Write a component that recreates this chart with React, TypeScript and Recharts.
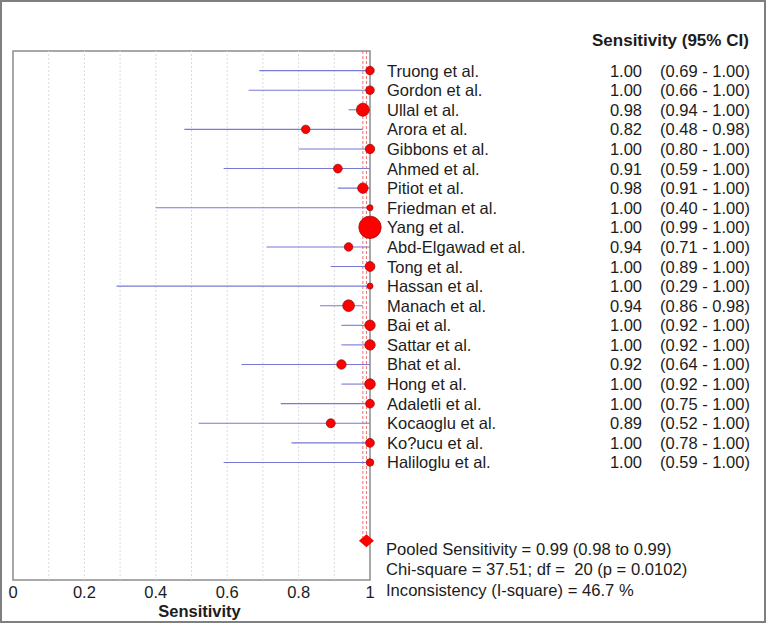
import React from "react";
import {
  ScatterChart,
  Scatter,
  XAxis,
  YAxis,
  ZAxis,
  ErrorBar,
  ReferenceLine,
  ReferenceArea,
} from "recharts";

const studies = [
  "Truong et al.",
  "Gordon et al.",
  "Ullal et al.",
  "Arora et al.",
  "Gibbons et al.",
  "Ahmed et al.",
  "Pitiot et al.",
  "Friedman et al.",
  "Yang et al.",
  "Abd-Elgawad et al.",
  "Tong et al.",
  "Hassan et al.",
  "Manach et al.",
  "Bai et al.",
  "Sattar et al.",
  "Bhat et al.",
  "Hong et al.",
  "Adaletli et al.",
  "Kocaoglu et al.",
  "Ko?ucu et al.",
  "Haliloglu et al.",
];
const sensitivity = [1.0, 1.0, 0.98, 0.82, 1.0, 0.91, 0.98, 1.0, 1.0, 0.94, 1.0, 1.0, 0.94, 1.0, 1.0, 0.92, 1.0, 1.0, 0.89, 1.0, 1.0];
const lower = [0.69, 0.66, 0.94, 0.48, 0.8, 0.59, 0.91, 0.4, 0.99, 0.71, 0.89, 0.29, 0.86, 0.92, 0.92, 0.64, 0.92, 0.75, 0.52, 0.78, 0.59];
const upper = [1.0, 1.0, 1.0, 0.98, 1.0, 1.0, 1.0, 1.0, 1.0, 1.0, 1.0, 1.0, 0.98, 1.0, 1.0, 1.0, 1.0, 1.0, 1.0, 1.0, 1.0];
// relative study weights (marker area)
const weights = [18, 18, 42, 18, 22, 19, 27, 9, 125, 18, 24, 9, 34, 27, 27, 22, 28, 19, 20, 19, 14];

const pooled = { est: 0.99, lo: 0.98, hi: 0.99 };
const xTicks = [0, 0.2, 0.4, 0.6, 0.8, 1];
const gridX = [0.1, 0.2, 0.3, 0.4, 0.5, 0.6, 0.7, 0.8, 0.9];
const summary = [
  "Pooled Sensitivity = 0.99 (0.98 to 0.99)",
  "Chi-square = 37.51; df =  20 (p = 0.0102)",
  "Inconsistency (I-square) = 46.7 %",
];

const POOLED_ROW = 24;
const FONT = "'Liberation Sans', Arial, sans-serif";
const TEXT = "#1c1c1c";

const rows = studies.map((name, i) => ({
  row: i,
  name,
  x: sensitivity[i],
  w: weights[i],
  err: [sensitivity[i] - lower[i], upper[i] - sensitivity[i]],
}));
const pooledData = [{ row: POOLED_ROW, x: pooled.est, w: 1 }];

const Dot = (props: any) => {
  const { cx, cy, size } = props;
  const r = Math.sqrt(size / Math.PI);
  return <circle cx={cx} cy={cy} r={r} fill="#ff0000" stroke="#9a1010" strokeWidth={0.8} />;
};

const Diamond = (props: any) => {
  const { cx, cy } = props;
  return (
    <path
      d={`M${cx - 7.5},${cy} L${cx},${cy - 6.5} L${cx + 7.5},${cy} L${cx},${cy + 6.5} Z`}
      fill="#ff0000"
    />
  );
};

const RowTick = (props: any) => {
  const { y, payload } = props;
  const i = payload.value;
  if (i < 0 || i >= studies.length) return null;
  return (
    <g fontFamily={FONT} fontSize={16.5} fill={TEXT}>
      <text x={387} y={y} dy={6}>
        {studies[i]}
      </text>
      <text x={642} y={y} dy={6} textAnchor="end">
        {sensitivity[i].toFixed(2)}
      </text>
      <text x={660} y={y} dy={6}>
        {`(${lower[i].toFixed(2)} - ${upper[i].toFixed(2)})`}
      </text>
    </g>
  );
};

export default function App() {
  return (
    <div style={{ position: "absolute", left: 0, top: 0, width: 766, height: 623, background: "#fff" }}>
      <ScatterChart width={766} height={623} margin={{ top: 51, right: 0, bottom: 0, left: 13 }}>
        <XAxis
          type="number"
          dataKey="x"
          domain={[0, 1]}
          ticks={xTicks}
          tickFormatter={(v) => String(v)}
          axisLine={false}
          tickLine={false}
          tickSize={6}
          tickMargin={0}
          height={43}
          tick={{ fill: TEXT, fontSize: 16.5, fontFamily: FONT }}
          label={{
            value: "Sensitivity",
            position: "insideBottom",
            offset: 6,
            dx: 8,
            style: { fill: TEXT, fontSize: 16.5, fontWeight: 700, fontFamily: FONT },
          }}
        />
        <YAxis
          type="number"
          dataKey="row"
          domain={[-1, 26]}
          reversed
          orientation="right"
          width={396}
          ticks={studies.map((_, i) => i)}
          axisLine={false}
          tickLine={false}
          tick={<RowTick />}
          interval={0}
        />
        <ZAxis type="number" dataKey="w" domain={[0, 125]} range={[0, 393]} />
        {gridX.map((g) => (
          <ReferenceLine key={g} x={g} stroke="#dadada" strokeDasharray="2 2" />
        ))}
        <ReferenceLine
          segment={[{ x: pooled.lo, y: -1 }, { x: pooled.lo, y: POOLED_ROW }]}
          stroke="#e05050"
          strokeWidth={0.8}
          strokeDasharray="3 2"
        />
        <ReferenceLine
          segment={[{ x: pooled.hi, y: -1 }, { x: pooled.hi, y: POOLED_ROW }]}
          stroke="#e05050"
          strokeWidth={0.8}
          strokeDasharray="3 2"
        />
        <ReferenceArea x1={0} x2={1} y1={-1} y2={26} fill="none" stroke="#8c8c8c" strokeWidth={1.5} />
        <Scatter data={rows} shape={<Dot />} isAnimationActive={false}>
          <ErrorBar dataKey="err" direction="x" width={0} stroke="#7878d6" strokeWidth={1.1} />
        </Scatter>
        <Scatter data={pooledData} shape={<Diamond />} isAnimationActive={false} />
      </ScatterChart>
      <div
        style={{
          position: "absolute",
          left: 592,
          top: 31,
          fontFamily: FONT,
          fontSize: 17,
          fontWeight: 700,
          color: TEXT,
          whiteSpace: "nowrap",
        }}
      >
        Sensitivity (95% CI)
      </div>
      <div
        style={{
          position: "absolute",
          left: 386,
          top: 540,
          fontFamily: FONT,
          fontSize: 16.6,
          lineHeight: "20.4px",
          color: TEXT,
          whiteSpace: "pre",
        }}
      >
        {summary.map((s) => (
          <div key={s}>{s}</div>
        ))}
      </div>
      <div
        style={{
          position: "absolute",
          left: 0,
          top: 0,
          width: 766,
          height: 623,
          boxSizing: "border-box",
          border: "2px solid #7f7f7f",
          pointerEvents: "none",
        }}
      />
    </div>
  );
}
